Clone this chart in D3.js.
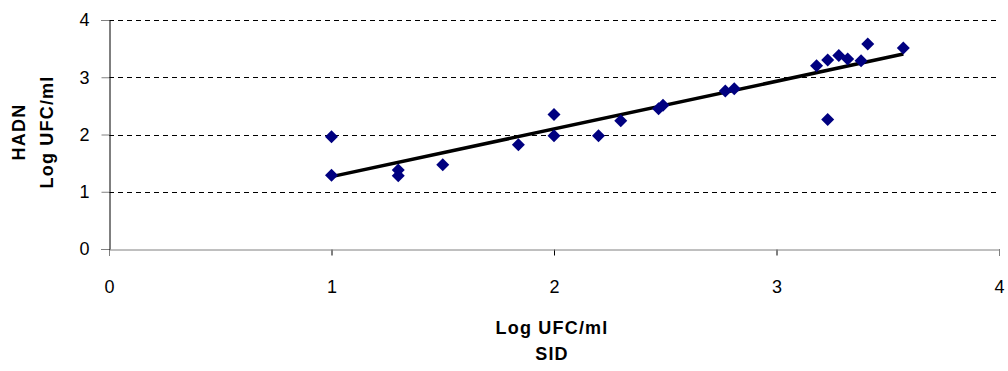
<html lang="es">
    <head>
        <meta charset="utf-8">
        <title>SID vs HADN</title>
        <script type="text/javascript" src="https://d3js.org/d3.v7.min.js"></script>
        <style>
            body { margin: 0; background: #fff; }
            text { font-family: "Liberation Sans", Arial, sans-serif; }
        </style>
    </head>
    <body>
        <div id="chart"></div>
        <script type="text/javascript">
            // Log UFC/ml, SID (x) y HADN (y)
            const sid  = [1.00, 1.00, 1.30, 1.30, 1.50, 1.84, 2.00, 2.00, 2.20, 2.30, 2.47, 2.49, 2.77, 2.81, 3.18, 3.23, 3.23, 3.28, 3.32, 3.38, 3.41, 3.57];
            const hadn = [1.29, 1.96, 1.38, 1.28, 1.47, 1.82, 1.98, 2.35, 1.98, 2.24, 2.45, 2.51, 2.76, 2.80, 3.20, 3.30, 2.26, 3.38, 3.32, 3.29, 3.58, 3.51];
            const xTicks = [0, 1, 2, 3, 4];
            const yTicks = [0, 1, 2, 3, 4];
            const xTitle = ["Log UFC/ml", "SID"];
            const yTitle = ["HADN", "Log UFC/ml"];

            const width = 1008, height = 371;
            const svg = d3.select("#chart").append("svg").attr("width", width).attr("height", height);
            const xScale = d3.scaleLinear().domain([0, 4]).range([109, 999]);
            const yScale = d3.scaleLinear().domain([0, 4]).range([249, 20]);

            // líneas de división punteadas
            svg.append("g").selectAll("line").data(yTicks.filter(d => d > 0)).join("line")
                .attr("x1", xScale(0)).attr("x2", xScale(4))
                .attr("y1", d => Math.round(yScale(d)) + 0.5).attr("y2", d => Math.round(yScale(d)) + 0.5)
                .attr("stroke", "#000").attr("stroke-width", 1).attr("stroke-dasharray", "5,4");

            // ejes
            const xAxis = svg.append("g").attr("transform", `translate(0,${Math.round(yScale(0)) + 0.5})`)
                .call(d3.axisBottom(xScale).tickValues(xTicks).tickFormat(d3.format("d")).tickSize(6).tickPadding(25));
            xAxis.select(".domain").attr("stroke", "#808080");
            xAxis.selectAll(".tick line").attr("stroke", "#000");
            const yAxis = svg.append("g").attr("transform", `translate(${Math.round(xScale(0)) + 0.5},0)`)
                .call(d3.axisLeft(yScale).tickValues(yTicks).tickFormat(d3.format("d")).tickSize(8).tickPadding(12));
            yAxis.select(".domain").attr("stroke", "#000");
            yAxis.selectAll(".tick line").attr("stroke", "#808080");
            svg.selectAll(".tick text").attr("font-size", "18px").attr("font-family", "Liberation Sans, Arial, sans-serif").attr("fill", "#000");
            xAxis.select(".domain").raise();

            // línea de tendencia (mínimos cuadrados)
            const mx = d3.mean(sid), my = d3.mean(hadn);
            const slope = d3.sum(sid, (x, i) => (x - mx) * (hadn[i] - my)) / d3.sum(sid, x => (x - mx) * (x - mx));
            const intercept = my - slope * mx;
            const xr = d3.extent(sid);
            svg.append("line")
                .attr("x1", xScale(xr[0])).attr("y1", yScale(intercept + slope * xr[0]))
                .attr("x2", xScale(xr[1])).attr("y2", yScale(intercept + slope * xr[1]))
                .attr("stroke", "#000").attr("stroke-width", 3.5);

            // puntos en forma de rombo
            const r = 6.5;
            svg.append("g").selectAll("path").data(sid).join("path")
                .attr("transform", (d, i) => `translate(${xScale(d)},${yScale(hadn[i])})`)
                .attr("d", `M0,${-r}L${r},0L0,${r}L${-r},0Z`)
                .attr("fill", "#000080");

            // títulos
            svg.append("g").selectAll("text").data(xTitle).join("text")
                .attr("x", 552).attr("y", (d, i) => 334 + i * 26)
                .attr("text-anchor", "middle").attr("font-size", "18px").attr("font-weight", "bold")
                .attr("letter-spacing", "1.2px").text(d => d);
            svg.append("g").selectAll("text").data(yTitle).join("text")
                .attr("transform", (d, i) => `translate(${25 + i * 28},132) rotate(-90)`)
                .attr("text-anchor", "middle").attr("font-size", "18px").attr("font-weight", "bold")
                .attr("letter-spacing", "1.2px").text(d => d);
        </script>
    </body>
</html>
